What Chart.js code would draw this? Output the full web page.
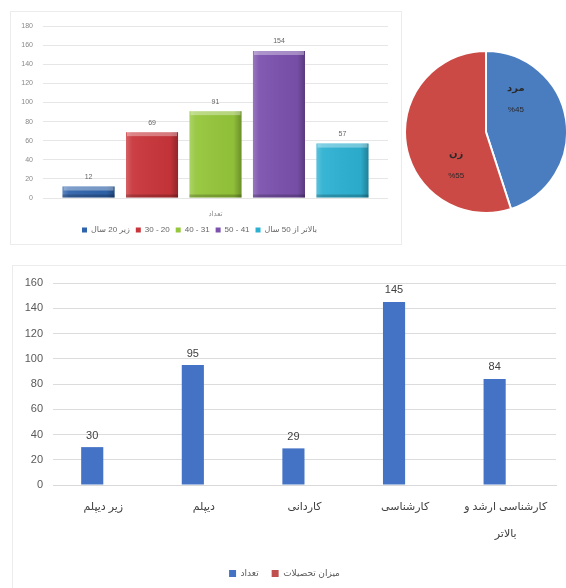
<!DOCTYPE html>
<html><head><meta charset="utf-8">
<script src="https://cdn.jsdelivr.net/npm/chart.js@4.4.1/dist/chart.umd.min.js"></script>
<style>
html,body{margin:0;padding:0;background:#fff;width:566px;height:588px;overflow:hidden;position:relative}
.box{position:absolute;box-sizing:border-box}
#ageBox{left:10px;top:11px;width:392px;height:234px;border:1px solid #ececec}
#pieBox{left:404px;top:50px;width:164px;height:164px}
#eduBox{left:12px;top:265px;width:554px;height:323px;border-left:1px solid #ececec;border-top:1px solid #ececec}
canvas{display:block}
</style></head><body>
<div class="box" id="ageBox"><canvas id="age"></canvas></div>
<div class="box" id="pieBox"><canvas id="pie"></canvas></div>
<div class="box" id="eduBox"><canvas id="edu"></canvas></div>
<script>
// ---- data ----
const ageCategory = ['تعداد'];
const ageGroups = ['زیر 20 سال', '30 - 20', '40 - 31', '50 - 41', 'بالاتر از 50 سال'];
const ageCounts = [12, 69, 91, 154, 57];
const ageTickMax = 180, ageTickStep = 20;

const genderLabels = ['مرد', 'زن'];
const genderPercent = [45, 55];

const eduCategories = ['زیر دیپلم', 'دیپلم', 'کاردانی', 'کارشناسی', ['کارشناسی ارشد و', 'بالاتر']];
const eduSeries = ['تعداد', 'میزان تحصیلات'];
const eduCounts = [30, 95, 29, 145, 84];
const eduLevelValues = [null, null, null, null, null];
const eduTickMax = 160, eduTickStep = 20;

// ---- styles ----
const ageColors = ['#2f63ab', '#c9353a', '#95c63b', '#7b51ad', '#2db1d2'];
const pieColors = ['#4a7cc0', '#cc4a45'];
const eduColors = ['#4472c4', '#c0504d'];
const FONT = "'Liberation Sans', 'DejaVu Sans', sans-serif";

const valueLabels = {
  id: 'valueLabels',
  afterDatasetsDraw(chart, args, o) {
    if (!o || !o.font) return;
    const ctx = chart.ctx; ctx.save();
    ctx.font = o.font; ctx.fillStyle = o.color; ctx.textAlign = 'center'; ctx.textBaseline = 'bottom';
    chart.data.datasets.forEach((ds, i) => {
      const meta = chart.getDatasetMeta(i);
      meta.data.forEach((el, j) => {
        const v = ds.data[j]; if (v == null) return;
        ctx.fillText(String(v), el.x, el.y - o.offset);
      });
    });
    ctx.restore();
  }
};

const barShade = {
  id: 'barShade',
  afterDatasetsDraw(chart, args, o) {
    if (!o || !o.on) return;
    const ctx = chart.ctx; ctx.save();
    chart.data.datasets.forEach((ds, i) => {
      chart.getDatasetMeta(i).data.forEach(el => {
        const p = el.getProps(['x', 'y', 'base', 'width'], true);
        const l = p.x - p.width / 2, w = p.width, t = p.y, h = p.base - p.y;
        const g = ctx.createLinearGradient(l, 0, l + w, 0);
        g.addColorStop(0, 'rgba(255,255,255,0.22)');
        g.addColorStop(0.12, 'rgba(255,255,255,0.06)');
        g.addColorStop(0.85, 'rgba(0,0,0,0.04)');
        g.addColorStop(1, 'rgba(0,0,0,0.28)');
        ctx.fillStyle = g; ctx.fillRect(l, t, w, h);
        ctx.fillStyle = 'rgba(255,255,255,0.35)'; ctx.fillRect(l + 1, t, w - 2, Math.min(4, h));
        ctx.fillStyle = 'rgba(0,0,0,0.2)'; ctx.fillRect(l, p.base - Math.min(3, h), w, Math.min(3, h));
      });
    });
    ctx.restore();
  }
};

const pieLabels = {
  id: 'pieLabels',
  afterDatasetsDraw(chart, args, o) {
    if (!o || !o.on) return;
    const ctx = chart.ctx; ctx.save();
    ctx.textAlign = 'center'; ctx.textBaseline = 'middle'; ctx.fillStyle = '#2a2a2a';
    const meta = chart.getDatasetMeta(0);
    meta.data.forEach((el, j) => {
      const p = el.getProps(['x', 'y', 'startAngle', 'endAngle', 'outerRadius'], true);
      const a = (p.startAngle + p.endAngle) / 2 + o.shift;
      const r = p.outerRadius * o.rf;
      const x = p.x + Math.cos(a) * r, y = p.y + Math.sin(a) * r;
      ctx.font = "bold 10px " + FONT;
      ctx.fillText(chart.data.labels[j], x, y - 11);
      ctx.font = "8px " + FONT;
      ctx.fillText('%' + chart.data.datasets[0].data[j], x, y + 11);
    });
    ctx.restore();
  }
};

Chart.register(valueLabels, barShade, pieLabels);

// ---- top-left: age bars ----
new Chart(document.getElementById('age'), {
  type: 'bar',
  data: {
    labels: ageCategory,
    datasets: ageGroups.map((g, i) => ({
      label: g, data: [ageCounts[i]], backgroundColor: ageColors[i],
      categoryPercentage: 0.92, barPercentage: 0.82
    }))
  },
  options: {
    responsive: true, maintainAspectRatio: false, animation: false,
    layout: { padding: { top: 12, right: 13, left: 0, bottom: 0 } },
    scales: {
      x: { grid: { display: false }, border: { display: false },
           ticks: { color: '#888', font: { size: 7, family: FONT }, padding: 4 },
           afterFit(s) { s.height = 22; } },
      y: { min: 0, max: ageTickMax, ticks: { stepSize: ageTickStep, color: '#888', font: { size: 7, family: FONT }, padding: 10 },
           grid: { color: '#e6e6e6', drawTicks: false }, border: { display: false },
           afterFit(s) { s.width = 32; } }
    },
    plugins: {
      legend: { position: 'bottom', labels: { boxWidth: 5, boxHeight: 5, padding: 6, color: '#666', font: { size: 8, family: FONT } } },
      tooltip: { enabled: false },
      barShade: { on: true },
      valueLabels: { font: '7px ' + FONT, color: '#666', offset: 6 },
      pieLabels: { on: false }
    }
  }
});

// ---- top-right: gender pie ----
new Chart(document.getElementById('pie'), {
  type: 'pie',
  data: { labels: genderLabels, datasets: [{ data: genderPercent, backgroundColor: pieColors, borderColor: '#fff', borderWidth: 2 }] },
  options: {
    responsive: true, maintainAspectRatio: false, animation: false,
    layout: { padding: 0 },
    plugins: { legend: { display: false }, tooltip: { enabled: false },
      barShade: { on: false }, valueLabels: { font: null }, pieLabels: { on: true, shift: -0.68, rf: 0.55 } }
  }
});

// ---- bottom: education bars ----
new Chart(document.getElementById('edu'), {
  type: 'bar',
  data: {
    labels: eduCategories,
    datasets: [
      { label: eduSeries[0], data: eduCounts, backgroundColor: eduColors[0], categoryPercentage: 0.44, barPercentage: 1.0 },
      { label: eduSeries[1], data: eduLevelValues, backgroundColor: eduColors[1], categoryPercentage: 0.44, barPercentage: 1.0 }
    ]
  },
  options: {
    responsive: true, maintainAspectRatio: false, animation: false,
    layout: { padding: { top: 17, right: 10, left: 0, bottom: 0 } },
    scales: {
      x: { grid: { display: false }, border: { display: true, color: '#d9d9d9' },
           ticks: { color: '#404040', font: { size: 11, family: FONT, lineHeight: 2.5 }, padding: 0, maxRotation: 0, autoSkip: false },
           afterFit(s) { s.height = 71; } },
      y: { min: 0, max: eduTickMax, ticks: { stepSize: eduTickStep, color: '#595959', font: { size: 11, family: FONT }, padding: 10 },
           grid: { color: '#dcdcdc', drawTicks: false }, border: { display: false },
           afterFit(s) { s.width = 40; } }
    },
    plugins: {
      legend: { position: 'bottom', labels: { boxWidth: 7, boxHeight: 7, padding: 13, color: '#595959', font: { size: 9, family: FONT } } },
      tooltip: { enabled: false },
      barShade: { on: false },
      valueLabels: { font: '11px ' + FONT, color: '#404040', offset: 6 },
      pieLabels: { on: false }
    }
  }
});
</script>
</body></html>
